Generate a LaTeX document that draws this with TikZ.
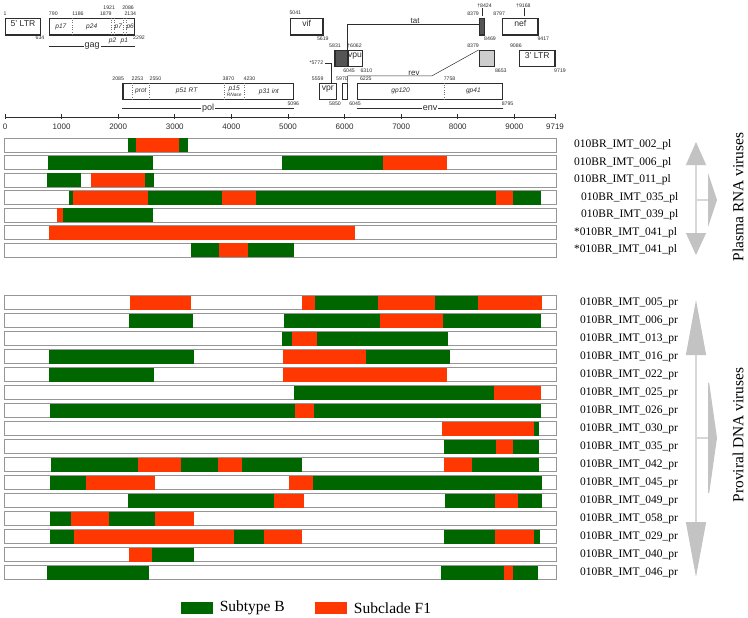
\documentclass[tikz,border=0pt]{standalone}
\usepackage{fontspec}
\setmainfont{Liberation Serif}
\setsansfont{Liberation Sans}
\usepackage{tikz}
\usetikzlibrary{arrows.meta, positioning, calc, fit}
\definecolor{subB}{RGB}{0,102,0}
\definecolor{subF}{RGB}{255,55,0}
\definecolor{mapdark}{RGB}{45,45,45}
\definecolor{framegray}{RGB}{150,150,150}
\definecolor{arrgray}{RGB}{195,195,195}
\definecolor{linegray}{RGB}{215,215,215}
\definecolor{exdark}{RGB}{85,85,85}
\definecolor{exlight}{RGB}{205,205,205}
\tikzset{
  genebox/.style={rectangle, draw=mapdark, line width=1.1pt, inner sep=0pt,
    font=\sffamily\fontsize{8.6}{9}\selectfont, text=mapdark},
  subgene/.style={font=\sffamily\itshape\fontsize{6.6}{7}\selectfont, text=mapdark, inner sep=0pt},
  subsmall/.style={font=\sffamily\itshape\fontsize{4.8}{5}\selectfont, text=mapdark, inner sep=0pt},
  num/.style={font=\sffamily\fontsize{5.2}{5.5}\selectfont, text=mapdark, inner sep=0pt},
  split/.style={dotted, black!55, line width=0.35pt},
  link/.style={mapdark, line width=0.5pt},
  span/.style={mapdark, line width=0.6pt},
  spanlbl/.style={fill=white, inner sep=1.2pt, font=\sffamily\fontsize{9}{9}\selectfont, text=mapdark},
  exonlbl/.style={inner sep=1pt, font=\sffamily\fontsize{8}{8}\selectfont, text=mapdark},
  axlbl/.style={font=\sffamily\fontsize{8}{8}\selectfont, text=mapdark, inner sep=0pt},
  bar/.style={draw=framegray, line width=0.8pt, fill=white},
  sample/.style={anchor=west, font=\fontsize{11.5}{12}\selectfont, inner sep=0pt},
  sidelbl/.style={rotate=90, font=\fontsize{15.4}{16}\selectfont, inner sep=0pt},
  grayline/.style={linegray, line width=1.2pt},
  legbox/.style={rectangle, minimum width=32.3pt, minimum height=11.7pt, inner sep=0pt},
  legtxt/.style={anchor=west, font=\fontsize{15.5}{16}\selectfont, inner sep=0pt}
}

\begin{document}
\begin{tikzpicture}[x=1pt, y=-1pt]
  \useasboundingbox (0,0) rectangle (748,618);

  % genome map, axis and bars on the genome scale
  \begin{scope}[shift={(5,0)}, x=0.05659pt]
    % gene boxes
    \node[genebox, fit={(1,18.3) (634,35)}] (ltrL) {5' LTR};
    \node[genebox, fit={(790,18.3) (2292,35)}] (gag) {};
    \node[genebox, fit={(5041,18.3) (5619,35)}] (vif) {vif};
    \node[genebox, fill=exdark, fit={(8379,18.3) (8469,35)}] (tatB) {};
    \node[genebox, fit={(8797,18.3) (9417,35)}] (nef) {nef};
    \node[genebox, fill=exdark, fit={(5831,50.5) (6045,66.7)}] (tatA) {};
    \node[genebox, fit={(6062,50.5) (6310,66.7)}] (vpu) {vpu};
    \node[genebox, fill=exlight, fit={(8379,50.5) (8653,66.7)}] (revB) {};
    \node[genebox, fit={(9086,50.5) (9719,66.7)}] (ltrR) {3' LTR};
    \node[genebox, fit={(2085,83.3) (5096,99.3)}] (pol) {};
    \node[genebox, fit={(5559,83.3) (5850,99.3)}] (vpr) {vpr};
    \node[genebox, fit={(5970,83.3) (6045,99.3)}] (revA) {};
    \node[genebox, fit={(6225,83.3) (8795,99.3)}] (env) {};

    % protein borders
    \foreach \p in {1186,1879,1921,2086,2134}
      \draw[split] (gag.north -| \p,0) -- (gag.south -| \p,0);
    \foreach \p in {2253,2550,3870,4230}
      \draw[split] (pol.north -| \p,0) -- (pol.south -| \p,0);
    \draw[split] (env.north -| 7758,0) -- (env.south -| 7758,0);

    % protein names
    \foreach \x/\y/\t [count=\i] in {988/26.7/p17, 1532/26.7/p24, 2003/26.7/p7, 2213/26.7/p6,
        1900/41/p2, 2110/41/p1, 2401/91.3/prot, 3210/91.3/p51 RT, 4050/89/p15,
        4663/91.3/p31 int, 6990/91.3/gp120, 8276/91.3/gp41}
      \node[subgene] (prt\i) at (\x,\y) {\t};
    \node[subsmall] (rnase) at (4050,95.3) {RNase};

    % positions
    \foreach \x/\y/\t [count=\i] in {0/14/1, 854/14/790, 1290/14/1186, 1782/14/1879,
        1841/8/1921, 2174/8/2086, 2215/14/2134, 618/38/634, 2368/38/2292,
        2000/79/2085, 2341/79/2253, 2659/79/2550, 3949/79/3870, 4320/79/4230,
        5095/104/5096, 5130/13/5041, 5616/39/5619, 8270/14/8379, 8473/6/†8424,
        8570/39/8469, 8733/14/8797, 9159/6/†9168, 9512/39/9417, 5831/46/5831,
        6176/46/†6062, 6079/71/6045, 6385/71/6310, 8270/46/8379, 8761/71/8653,
        9027/46/9086, 9807/71/9719, 5526/79/5559, 5955/79/5970, 6376/79/6225,
        7855/79/7758, 5831/104/5850, 6185/104/6045, 8880/104/8795}
      \node[num] (pos\i) at (\x,\y) {\t};
    \node[num, anchor=east] (m5772) at (5625,63) {*5772};

    % exon links and markers
    \draw[link] (tatA.north east) |- ([yshift=2.7pt]tatB.west);
    \draw[link] (revA.north east) |- (7540,76) -- (revB.north west);
    \draw[link, shorten <=1.5pt] (m5772.east) -| (vpr.north -| 5772,0);
    \draw[link] (tatB.north -| 8424,0) ++(0,-1.3) -- ++(0,-8);
    \draw[link] (nef.north -| 9168,0) ++(0,-1.3) -- ++(0,-8);
    \node[exonlbl, anchor=south] (tatLbl) at (7245,24.5) {tat};
    \node[exonlbl, anchor=south] (revLbl) at (7227,76.5) {rev};

    % gene spans
    \draw[span] (gag.west |- 0,46) -- (gag.east |- 0,46) node[spanlbl, midway] (gagLbl) {gag};
    \draw[span] (pol.west |- 0,108) -- (pol.east |- 0,108) node[spanlbl, midway] (polLbl) {pol};
    \draw[span] (env.west |- 0,108) -- (env.east |- 0,108) node[spanlbl, midway] (envLbl) {env};

    % axis
    \draw[mapdark, line width=0.7pt] (0,117) -- (9719,117);
    \foreach \t in {0,1000,...,9000,9719} {
      \draw[mapdark, line width=0.6pt] (\t,114.5) -- (\t,119.5);
      \node[axlbl] (ax\t) at (\t,127) {\t};
    }

    % plasma RNA viruses
    \foreach \y/\gap/\name/\segs [count=\i] in {
        145/17.8pt/010BR\_IMT\_002\_pl/{2180/2315/subB, 2315/3080/subF, 3080/3240/subB},
        162.5/17.8pt/010BR\_IMT\_006\_pl/{765/2610/subB, 4890/6685/subB, 6685/7805/subF},
        180/17.8pt/010BR\_IMT\_011\_pl/{747/1338/subB, 1514/2474/subF, 2474/2633/subB},
        197.5/24.8pt/010BR\_IMT\_035\_pl/{1136/1196/subB, 1196/2532/subF, 2532/3829/subB,
          3829/4435/subF, 4435/8671/subB, 8671/8982/subF, 8982/9472/subB},
        215/24.8pt/010BR\_IMT\_039\_pl/{924/1020/subF, 1020/2610/subB},
        232.5/17.8pt/*010BR\_IMT\_041\_pl/{778/6185/subF},
        250/17.8pt/*010BR\_IMT\_041\_pl/{3281/3787/subB, 3787/4299/subF, 4299/5107/subB}} {
      \draw[bar] (-15,\y-7) rectangle (9740,\y+7);
      \foreach \a/\b/\c in \segs
        \fill[\c] (\a,\y-7) rectangle (\b,\y+7);
      \coordinate (pe\i) at (9740,\y);
      \node[sample, right=\gap of pe\i] (pl\i) {\name};
    }

    % proviral DNA viruses
    \foreach \y/\name/\segs [count=\i] in {
        302.5/010BR\_IMT\_005\_pr/{2209/3281/subF, 5254/5478/subF, 5478/6586/subB,
          6586/7599/subF, 7599/8353/subB, 8353/9484/subF},
        320.5/010BR\_IMT\_006\_pr/{2191/3327/subB, 4925/6627/subB, 6627/7745/subF, 7745/9472/subB},
        338.5/010BR\_IMT\_013\_pr/{4890/5066/subB, 5066/5519/subF, 5519/7834/subB},
        356.5/010BR\_IMT\_016\_pr/{778/3340/subB, 4907/6374/subF, 6374/7864/subB},
        374.5/010BR\_IMT\_022\_pr/{778/2633/subB, 4907/7816/subF},
        392.5/010BR\_IMT\_025\_pr/{5112/8641/subB, 8641/9472/subF},
        410.5/010BR\_IMT\_026\_pr/{795/5125/subB, 5125/5455/subF, 5455/9472/subB},
        428.5/010BR\_IMT\_030\_pr/{7728/9348/subF, 9348/9436/subB},
        446.5/010BR\_IMT\_035\_pr/{7758/8671/subB, 8671/8982/subF, 8982/9436/subB},
        464.5/010BR\_IMT\_042\_pr/{808/2350/subB, 2350/3110/subF, 3110/3759/subB, 3759/4183/subF,
          4183/5254/subB, 7758/8258/subF, 8258/9436/subB},
        482.5/010BR\_IMT\_045\_pr/{790/1426/subB, 1426/2645/subF, 5013/5437/subF, 5437/9484/subB},
        500.5/010BR\_IMT\_049\_pr/{2179/4759/subB, 4759/5278/subF, 7775/8659/subB,
          8659/9065/subF, 9065/9484/subB},
        518.5/010BR\_IMT\_058\_pr/{790/1166/subB, 1166/1832/subF, 1832/2645/subB, 2645/3340/subF},
        536.5/010BR\_IMT\_029\_pr/{790/1219/subB, 1219/4047/subF, 4047/4577/subB, 4577/5248/subF,
          7758/8659/subB, 8659/9348/subF, 9348/9454/subB},
        554.5/010BR\_IMT\_040\_pr/{2196/2603/subF, 2603/3340/subB},
        572.5/010BR\_IMT\_046\_pr/{742/2539/subB, 7710/8812/subB, 8812/8982/subF, 8982/9424/subB}} {
      \draw[bar] (-15,\y-7) rectangle (9740,\y+7);
      \foreach \a/\b/\c in \segs
        \fill[\c] (\a,\y-7) rectangle (\b,\y+7);
      \coordinate (ve\i) at (9740,\y);
      \node[sample, right=23.8pt of ve\i] (pr\i) {\name};
    }
  \end{scope}

  % group arrows
  \coordinate (pTop) at (696,142);
  \coordinate (pBot) at (696,255);
  \coordinate (pMid) at (696,200);
  \coordinate (pTip) at (717,200);
  \draw[grayline, {Triangle[length=23pt, width=20pt, color=arrgray]}-{Triangle[length=22pt, width=20pt, color=arrgray]}] (pTop) -- (pBot);
  \draw[grayline, -{Triangle[length=9pt, width=54pt, color=arrgray]}] (pMid) -- (pTip);

  \coordinate (vTop) at (696,300);
  \coordinate (vBot) at (696,577);
  \coordinate (vMid) at (696,438);
  \coordinate (vTip) at (717,438);
  \draw[grayline, {Triangle[length=55pt, width=20pt, color=arrgray]}-{Triangle[length=55pt, width=20pt, color=arrgray]}] (vTop) -- (vBot);
  \draw[grayline, -{Triangle[length=9pt, width=127pt, color=arrgray]}] (vMid) -- (vTip);

  \node[sidelbl] (plasma) at (738,197) {Plasma RNA viruses};
  \node[sidelbl] (proviral) at (738,435) {Proviral DNA viruses};

  % legend
  \node[legbox, fill=subB] (legB) at (197.2,608.2) {};
  \node[legtxt, right=6pt of legB] (legBtxt) {Subtype B};
  \node[legbox, fill=subF] (legF) at (330.9,608.2) {};
  \node[legtxt, right=6.5pt of legF] (legFtxt) {Subclade F1};
\end{tikzpicture}
\end{document}
